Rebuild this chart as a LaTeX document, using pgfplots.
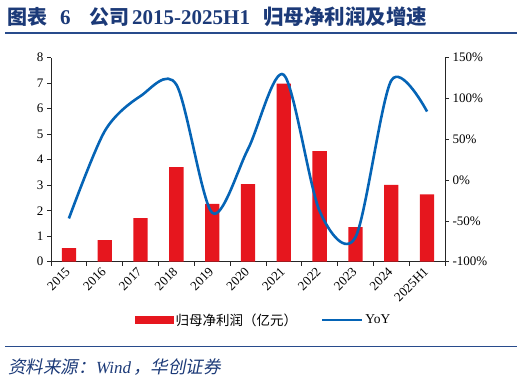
\documentclass[border=0pt]{standalone}
\usepackage{pgfplots}
\pgfplotsset{compat=1.18}
\usepackage{fontspec}
\setmainfont{Liberation Serif}
\newfontfamily\cjk{Noto Sans CJK SC}
\newfontfamily\cjkit[FakeSlant=0.2]{Noto Sans CJK SC}
\definecolor{barred}{RGB}{230,22,30}
\definecolor{lineblue}{RGB}{5,100,182}
\definecolor{titleblue}{RGB}{28,58,120}
\definecolor{rulebl}{RGB}{40,75,140}
\begin{document}
\begin{tikzpicture}
\useasboundingbox (0pt,0pt) rectangle (524pt,-382pt);
% title
\node[anchor=base west, inner sep=0pt, text=titleblue] at (7pt,-25pt) {\fontsize{20}{24}\selectfont\cjk\bfseries 图表};
\node[anchor=base west, inner sep=0pt, text=titleblue] at (60pt,-25pt) {\fontsize{21}{24}\selectfont\bfseries 6};
\node[anchor=base west, inner sep=0pt, text=titleblue] at (89pt,-25pt) {\fontsize{20}{24}\selectfont\cjk\bfseries 公司};
\node[anchor=base west, inner sep=0pt, text=titleblue] at (132pt,-25pt) {\fontsize{21}{24}\selectfont\bfseries 2015-2025H1};
\node[anchor=base west, inner sep=0pt, text=titleblue] at (263pt,-25pt) {\fontsize{20.5}{24}\selectfont\cjk\bfseries 归母净利润及增速};
\draw[rulebl, line width=2pt] (5pt,-33pt) -- (517pt,-33pt);
\draw[rulebl, line width=1.5pt] (5pt,-346.5pt) -- (517pt,-346.5pt);
\node[anchor=base west, inner sep=0pt, text=titleblue] at (8pt,-373pt) {\fontsize{17.5}{20}\selectfont\cjkit 资料来源：};
\node[anchor=base west, inner sep=0pt, text=titleblue] at (96pt,-373pt) {\fontsize{17}{20}\selectfont\itshape Wind};
\node[anchor=base west, inner sep=0pt, text=titleblue] at (133pt,-373pt) {\fontsize{17.5}{20}\selectfont\cjkit ，华创证券};
% bars
\begin{axis}[
  at={(51pt,-261.7pt)}, anchor=south west,
  scale only axis, width=394pt, height=204pt,
  xmin=-0.5, xmax=10.5, ymin=0, ymax=8,
  axis x line*=bottom, axis y line*=left,
  axis line style={black!85, line width=0.8pt},
  xtick={0,...,10},
  xticklabels={2015,2016,2017,2018,2019,2020,2021,2022,2023,2024,2025H1},
  major x tick style={draw=none},
  minor xtick={-0.5,0.5,...,10.5},
  minor tick length=4pt, major tick length=4pt,
  ytick={0,...,8},
  tick align=outside,
  tick style={black!85, line width=0.8pt},
  ticklabel style={font=\fontsize{13}{15}\selectfont},
  x tick label style={rotate=45, anchor=east, yshift=-2pt},
  /pgf/number format/assume math mode=true,
  ybar, bar width=14.3pt,
  clip=false,
]
\addplot[fill=barred, draw=none] coordinates {
(0,0.53) (1,0.85) (2,1.71) (3,3.71) (4,2.27) (5,3.04) (6,6.98) (7,4.34) (8,1.36) (9,3.01) (10,2.64)};
\end{axis}
% line
\begin{axis}[
  at={(51pt,-261.7pt)}, anchor=south west,
  scale only axis, width=394pt, height=204pt,
  xmin=-0.5, xmax=10.5, ymin=-100, ymax=150,
  axis y line*=right, axis x line=none,
  axis line style={black!85, line width=0.8pt},
  ytick={-100,-50,...,150},
  yticklabel={\pgfmathprintnumber{\tick}\%},
  tick align=outside, major tick length=4pt,
  tick style={black!85, line width=0.8pt},
  ticklabel style={font=\fontsize{13}{15}\selectfont},
  /pgf/number format/assume math mode=true,
  legend columns=2,
  legend style={at={(0.54,-0.286)}, anchor=center, draw=none, fill=none,
    font=\fontsize{13.5}{15}\selectfont, /tikz/every even column/.append style={column sep=22pt}},
  clip=false,
]
\addlegendimage{legend image code/.code={\fill[barred] (0pt,-3.5pt) rectangle (38pt,3.5pt);}}
\addlegendentry{\cjk 归母净利润（亿元）}
\addplot[smooth, lineblue, line width=2.6pt,
  legend image code/.code={\draw[lineblue, line width=2.2pt] (0pt,0pt) -- (40pt,0pt);}]
 coordinates {
(0,-47) (1,60) (2,103) (3,117) (4,-40) (5,38) (6,129) (7,-38) (8,-70) (9,122) (10,84)};
\addlegendentry{YoY}
\end{axis}
\end{tikzpicture}
\end{document}
